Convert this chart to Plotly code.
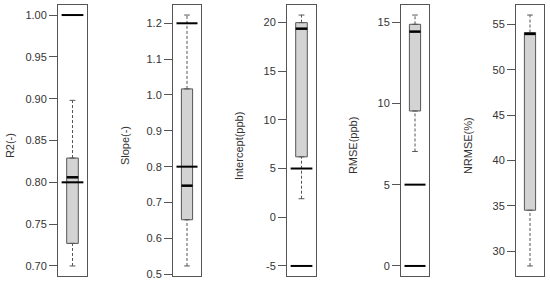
import plotly.graph_objects as go

# statistics
titles = ['R2(-)', 'Slope(-)', 'Intercept(ppb)', 'RMSE(ppb)', 'NRMSE(%)']
lower_whisker = [0.70, 0.523, 1.9, 7.04, 28.35]
q1 = [0.727, 0.652, 6.2, 9.53, 34.5]
median = [0.806, 0.747, 19.35, 14.41, 53.95]
q3 = [0.829, 1.017, 19.97, 14.86, 54.1]
upper_whisker = [0.898, 1.223, 20.75, 15.43, 56.03]
# reference lines drawn on each panel
thresholds = [[0.80, 1.00], [0.80, 1.20], [-5, 5], [0, 5], []]
tick_step = [0.05, 0.1, 5, 5, 5]
tick_decimals = [2, 1, 0, 0, 0]

# panel frame positions (pixels) in the 550x281 page
W, H = 550, 281
frame_left = [58, 173, 287, 401, 516]
frame_right = [87, 201, 316, 429, 544]
frame_top, frame_bottom = 5, 276

box_col = '#555555'
fig = go.Figure()
layout = dict(width=W, height=H, margin=dict(l=0, r=0, t=0, b=0),
              paper_bgcolor='white', plot_bgcolor='white', showlegend=False,
              annotations=[])

for i in range(5):
    n = '' if i == 0 else str(i + 1)
    xa, ya = 'x' + n, 'y' + n

    fig.add_trace(go.Box(x=[0.5], q1=[q1[i]], median=[median[i]], q3=[q3[i]],
                         lowerfence=[q1[i]], upperfence=[q3[i]], width=0.4,
                         fillcolor='#D3D3D3', line=dict(color=box_col, width=1),
                         boxpoints=False, hoverinfo='skip', xaxis=xa, yaxis=ya))
    # dashed whiskers
    fig.add_trace(go.Scatter(x=[0.5, 0.5, None, 0.5, 0.5],
                             y=[q3[i], upper_whisker[i], None, lower_whisker[i], q1[i]],
                             mode='lines', line=dict(color=box_col, width=1, dash='3px,2px'),
                             hoverinfo='skip', xaxis=xa, yaxis=ya))
    # whisker caps
    fig.add_trace(go.Scatter(x=[0.4, 0.6, None, 0.4, 0.6],
                             y=[upper_whisker[i], upper_whisker[i], None,
                                lower_whisker[i], lower_whisker[i]],
                             mode='lines', line=dict(color=box_col, width=1),
                             hoverinfo='skip', xaxis=xa, yaxis=ya))
    # thick median
    fig.add_trace(go.Scatter(x=[0.3, 0.7], y=[median[i], median[i]], mode='lines',
                             line=dict(color='black', width=2.5),
                             hoverinfo='skip', xaxis=xa, yaxis=ya))
    # reference lines
    for t in thresholds[i]:
        fig.add_trace(go.Scatter(x=[0.125, 0.875], y=[t, t], mode='lines',
                                 line=dict(color='black', width=2),
                                 hoverinfo='skip', xaxis=xa, yaxis=ya))

    lo = min([lower_whisker[i]] + thresholds[i])
    hi = max([upper_whisker[i]] + thresholds[i])
    pad = (hi - lo) * 0.04
    lo, hi = lo - pad, hi + pad
    step = tick_step[i]
    k0 = int(-(-lo // step))
    k1 = int(hi // step)
    ticks = [round(k * step, 6) for k in range(k0, k1 + 1)]
    labels = [f'{v:.{tick_decimals[i]}f}' for v in ticks]

    layout['xaxis' + n] = dict(domain=[frame_left[i] / W, frame_right[i] / W],
                               range=[0, 1], showticklabels=False, ticks='',
                               showgrid=False, zeroline=False, showline=True,
                               mirror=True, linecolor='#555555', linewidth=1,
                               anchor=ya, fixedrange=True)
    layout['yaxis' + n] = dict(domain=[1 - frame_bottom / H, 1 - frame_top / H],
                               range=[lo, hi], tickmode='array',
                               tickvals=ticks, ticktext=labels, ticks='outside',
                               ticklen=8, tickcolor='#555555', showgrid=False,
                               zeroline=False, showline=True, mirror=True,
                               linecolor='#555555', linewidth=1, anchor=xa,
                               tickfont=dict(family='Liberation Sans', size=11, color='#333333'),
                               automargin=False, fixedrange=True)
    layout['annotations'].append(dict(text=titles[i], xref='paper', yref='paper',
                                      x=(frame_left[i] - 48) / W, y=0.48,
                                      xanchor='center', yanchor='middle',
                                      textangle=-90, showarrow=False,
                                      font=dict(family='Liberation Sans', size=11,
                                                color='#333333')))

fig.update_layout(**layout)
# drop the default page margin so the figure sits at the window's corner
fig.write_html('out.html', config={'displayModeBar': False},
               post_script="document.body.style.margin='0';document.body.style.overflow='hidden';")
